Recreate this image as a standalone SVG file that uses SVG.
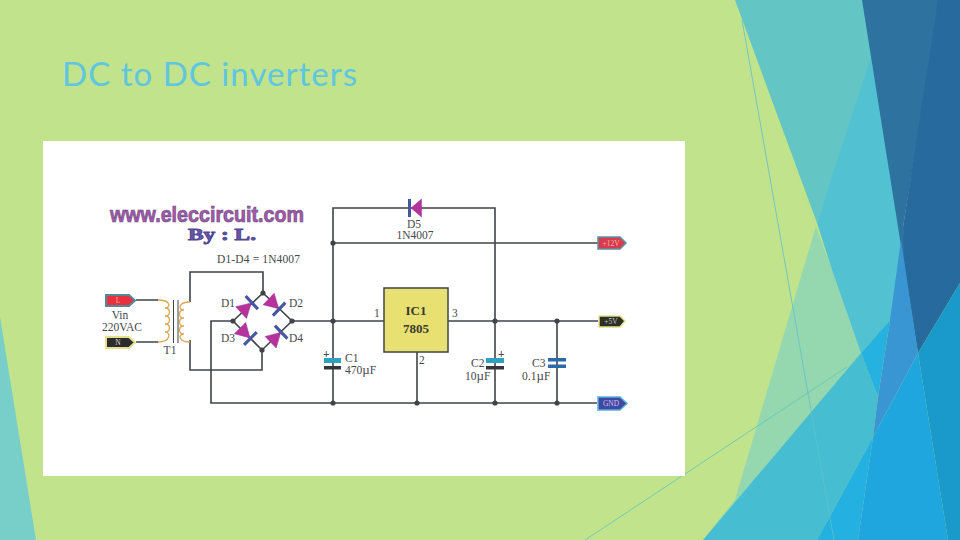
<svg xmlns="http://www.w3.org/2000/svg" width="960" height="540" viewBox="0 0 960 540">
<defs>
<style>
.w{fill:none;stroke:#3f4449;stroke-width:1.6}
.d{fill:#3f4449}
.t{font-family:"Liberation Serif",serif;font-size:11.5px;fill:#45484c}
.c{text-anchor:middle}
.tag{font-family:"Liberation Serif",serif;font-size:7.5px;text-anchor:middle}
.tri{fill:#b8329c;stroke:#8a3aa0;stroke-width:.5}
.bar{fill:#46569f}
</style>
<g id="diode"><polygon class="tri" points="-14,-8 -14,8 0,0"/><rect class="bar" x="-1" y="-9" width="3.2" height="18"/></g>
</defs>
<rect width="960" height="540" fill="#c1e38b"/>
<g id="background">
<polygon points="0,317 36,540 0,540" fill="#78cfca"/>
<polygon points="780,133 816,227 803,270 735,500 703,540 861,353 832,270" fill="#a5dc9f"/>
<polygon points="803,270 735,500 703,540 861,353 832,270 816,227" fill="#95d8b0"/>
<polygon points="735,0 870,0 874,57 817,223" fill="#63c6c4"/>
<polygon points="817,223 871,57 910,270 890,320 861,353 832,270" fill="#52c1d2"/>
<polygon points="862,0 940,0 903,227 918,353" fill="#2e72a0"/>
<polygon points="938,0 960,0 960,283 918,353 905,270 903,227" fill="#276b9e"/>
<polygon points="861,353 703,540 817,540 873,437 878,397" fill="#46bdd1"/>
<polygon points="861,353 890,320 878,397" fill="#26b2e0"/>
<polygon points="901,240 918,353 873,437 878,397 890,320" fill="#3a96d2"/>
<polygon points="873,437 858,540 817,540" fill="#24b0e0"/>
<polygon points="918,353 873,437 858,540 948,540" fill="#20a6de"/>
<polygon points="960,283 960,540 948,540 918,353" fill="#1a9acb"/>
<line x1="742" y1="20" x2="834" y2="540" stroke="#5fc0cc" stroke-width=".8"/>
<line x1="585" y1="540" x2="847" y2="367" stroke="#62c4ba" stroke-width=".8"/>
</g>
<text id="title" x="62" y="86" font-family="Lato,sans-serif" font-size="33" fill="#5fc6e0" textLength="295" lengthAdjust="spacing">DC to DC inverters</text>
<rect id="picture" x="43" y="141" width="642" height="335" fill="#fff"/>
<g id="connectors">
<path class="w" d="M190,302V272H263V293L233,321M263,293L292,321L262,350L233,321M262,350V370H190V340"/>
<path class="w" d="M233,321H211V403H597"/>
<path class="w" d="M292,321H384M448,321H598"/>
<path class="w" d="M333,403V208H495V403"/>
<path class="w" d="M333,243H598"/>
<path class="w" d="M417,352V403M557,321V403"/>
<path class="w" d="M136,300H158M136,342H158"/>
<g class="d">
<circle cx="263" cy="293" r="2.6"/><circle cx="233" cy="321" r="2.6"/><circle cx="292" cy="321" r="2.6"/><circle cx="262" cy="350" r="2.6"/>
<circle cx="333" cy="243" r="2.6"/><circle cx="333" cy="321" r="2.6"/><circle cx="495" cy="321" r="2.6"/><circle cx="557" cy="321" r="2.6"/>
<circle cx="333" cy="403" r="2.6"/><circle cx="417" cy="403" r="2.6"/><circle cx="495" cy="403" r="2.6"/><circle cx="557" cy="403" r="2.6"/>
</g>
</g>
<g id="logo">
<text x="110" y="222" font-family="'Liberation Sans',sans-serif" font-size="22" font-weight="bold" fill="#a45aa8" stroke="#6d4a86" stroke-width=".7" textLength="194" lengthAdjust="spacingAndGlyphs">www.eleccircuit.com</text>
<text x="188" y="240" font-family="'Liberation Serif',serif" font-size="16" font-weight="bold" fill="#6a55a8" stroke="#4f4590" stroke-width=".8" textLength="68" lengthAdjust="spacingAndGlyphs">By : L.</text>
</g>
<text class="t" x="217" y="263" textLength="83">D1-D4 = 1N4007</text>
<g id="L"><polygon points="106,295 129,295 135,300.500 129,306 106,306" fill="#e8303f" stroke="#4f8a9a" stroke-width="2"/><text class="tag" x="118" y="303" fill="#f0b0a0">L</text></g>
<g id="N"><polygon points="106,337 129,337 135,342.500 129,348 106,348" fill="#2b2b2e" stroke="#e6e08a" stroke-width="2"/><text class="tag" x="118" y="345" fill="#ddd">N</text></g>
<g id="vin"><text class="t c" x="120" y="319">Vin</text><text class="t c" x="122" y="331">220VAC</text></g>
<g id="T1">
<path d="M158,300C171,300 171,308 165,308C171,308 171,316 165,316C171,316 171,324 165,324C171,324 171,332 165,332C171,332 171,342 158,342" fill="none" stroke="#dca850" stroke-width="1.3"/>
<path d="M190,302C178,302 178,310 184,310C178,310 178,318 184,318C178,318 178,326 184,326C178,326 178,334 184,334C178,334 178,342 190,342" fill="none" stroke="#dca850" stroke-width="1.3"/>
<path d="M173.500,300V343M178,300V343" fill="none" stroke="#3f4449" stroke-width="1"/>
<text class="t c" x="170" y="354">T1</text>
</g>
<g id="D1"><use href="#diode" transform="translate(251.300,303) rotate(-43)"/><text class="t" x="221" y="307">D1</text></g>
<g id="D2"><use href="#diode" transform="translate(278.700,308.700) rotate(44)"/><text class="t" x="289" y="307">D2</text></g>
<g id="D3"><use href="#diode" transform="translate(250,338) rotate(45)"/><text class="t" x="221" y="342">D3</text></g>
<g id="D4"><use href="#diode" transform="translate(280.700,332.500) rotate(-44)"/><text class="t" x="289" y="342">D4</text></g>
<g id="D5">
<polygon class="tri" points="421.500,199 421.500,217 411,208"/><rect class="bar" x="408" y="199" width="3" height="18"/>
<text class="t c" x="414" y="228">D5</text><text class="t c" x="415" y="239">1N4007</text></g>
<g id="IC1"><rect x="384" y="288" width="64" height="64" fill="#e8e070" stroke="#3f4449" stroke-width="1.5"/>
<text x="416" y="315" class="c" font-family="'Liberation Serif',serif" font-size="13" font-weight="bold" fill="#3a3a30">IC1</text>
<text x="416" y="333" class="c" font-family="'Liberation Serif',serif" font-size="13" font-weight="bold" fill="#3a3a30">7805</text>
<text class="t" x="374" y="317">1</text><text class="t" x="452" y="317">3</text><text class="t" x="419" y="364">2</text></g>
<g id="C1"><rect x="324" y="358" width="17" height="5" fill="#2ea0c0"/><rect x="324" y="366" width="17" height="3.500" fill="#33363a"/><text class="t" x="323" y="358" font-weight="bold">+</text>
<text class="t" x="345" y="362">C1</text><text class="t" x="345" y="374">470<tspan font-size="13">µ</tspan>F</text></g>
<g id="C2"><rect x="486" y="358" width="18" height="5" fill="#2ea0c0"/><rect x="486" y="366" width="18" height="3.500" fill="#33363a"/><text class="t" x="498" y="358" font-weight="bold">+</text>
<text class="t" x="471" y="367">C2</text><text class="t" x="465" y="380">10<tspan font-size="13">µ</tspan>F</text></g>
<g id="C3"><rect x="548" y="358" width="18" height="3.500" fill="#2f6aa8"/><rect x="548" y="364.500" width="18" height="3.500" fill="#2f6aa8"/>
<text class="t" x="532" y="367">C3</text><text class="t" x="522" y="380">0.1<tspan font-size="13">µ</tspan>F</text></g>
<g id="p12"><polygon points="598,237 620,237 626,243 620,249 598,249" fill="#d93a4f" stroke="#5a93a0" stroke-width="1.500"/><text class="tag" x="611" y="245.500" fill="#f2b8b0">+12V</text></g>
<g id="p5"><polygon points="599,316 620,316 625,321 620,327 599,327" fill="#2e2e28" stroke="#e6e08a" stroke-width="1.500"/><text class="tag" x="611" y="324" fill="#ccc">+5V</text></g>
<g id="gnd"><polygon points="598,397 620,397 627,403.500 620,410 598,410" fill="#3d4aa0" stroke="#5ab0e0" stroke-width="1.500"/><text class="tag" x="611" y="406" fill="#d8b8f0">GND</text></g>
</svg>
